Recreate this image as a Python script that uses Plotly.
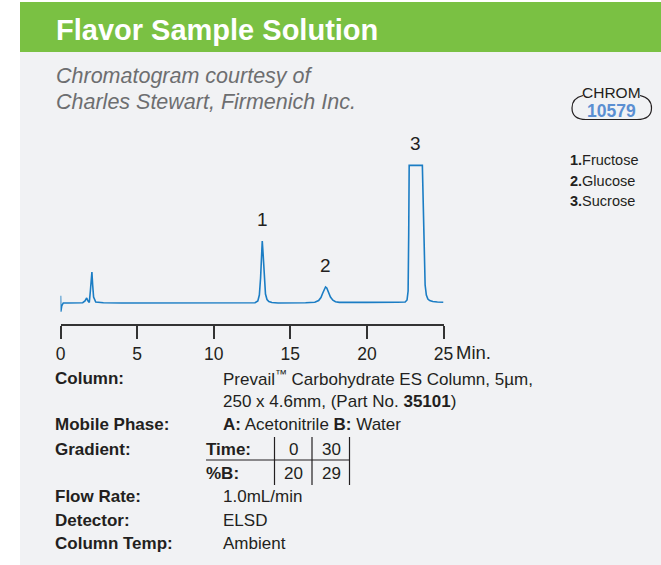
import plotly.graph_objects as go

# ---------------- data ----------------
time_min = [0.0, 0.02, 0.08, 0.18, 0.5, 1.0, 1.45, 1.6, 1.71, 1.8, 1.88, 1.95, 2.0, 2.05, 2.1, 2.16, 2.3, 2.5, 2.8,
            4.0, 8.0, 12.0, 12.7, 12.88, 12.98, 13.06, 13.12, 13.17, 13.23, 13.3, 13.38, 13.48, 13.6, 13.8, 14.2,
            16.0, 16.6, 16.85, 17.0, 17.12, 17.22, 17.3, 17.38, 17.5, 17.62, 17.78, 17.95, 18.2, 18.6,
            20.0, 22.0, 22.5, 22.62, 22.69, 22.73, 22.76, 23.62, 23.68, 23.74, 23.8, 23.88, 23.98, 24.1, 24.3, 24.6, 25.0]
signal = [7.3, -8.7, -3.0, 0.0, 0.0, 0.0, 0.3, 2.0, 5.0, 2.0, 0.6, 12.0, 25.0, 31.0, 18.0, 6.0, 1.0, 0.6, 0.3,
          0.0, 0.0, 0.0, 0.3, 2.0, 8.0, 25.0, 48.0, 62.0, 48.0, 24.0, 9.0, 3.5, 1.5, 0.5, 0.0,
          0.2, 0.8, 2.5, 5.5, 10.0, 14.0, 16.0, 15.0, 10.5, 6.0, 2.8, 1.3, 0.6, 0.5,
          0.6, 0.8, 1.0, 3.0, 12.0, 70.0, 137.6, 137.6, 90.0, 40.0, 18.0, 8.0, 4.0, 2.5, 1.5, 1.0, 0.8]

peak_labels = ["1", "2", "3"]
peak_times = [13.17, 17.3, 23.19]
peak_heights = [62.0, 16.0, 137.6]
compound_names = ["Fructose", "Glucose", "Sucrose"]

x_ticks = [0, 5, 10, 15, 20, 25]
x_unit = "Min."

title_text = "Flavor Sample Solution"
subtitle_lines = ["Chromatogram courtesy of", "Charles Stewart, Firmenich Inc."]
chrom_word = "CHROM"
chrom_number = "10579"

cond_labels = ["Column:", "", "Mobile Phase:", "Gradient:", "", "Flow Rate:", "Detector:", "Column Temp:"]
cond_values = ["Prevail<sup>™</sup> Carbohydrate ES Column, 5µm,",
               "250 x 4.6mm, (Part No. <b>35101</b>)",
               "<b>A:</b> Acetonitrile <b>B:</b> Water",
               None, None,
               "1.0mL/min", "ELSD", "Ambient"]
grad_row_names = ["Time:", "%B:"]
grad_time = [0, 30]
grad_pctB = [20, 29]

# ---------------- layout helpers ----------------
W, H = 661, 565
def px(x):
    return x / W
def py(y):
    return 1 - y / H

SANS = "Liberation Sans, Arial, Helvetica, sans-serif"
DARK = "#231f20"
BLUE = "#1b7dc4"

fig = go.Figure()
fig.add_trace(go.Scatter(x=time_min, y=signal, mode="lines",
                         line=dict(color=BLUE, width=1.6), hoverinfo="skip", showlegend=False))

shapes = []
# panels
shapes.append(dict(type="rect", xref="paper", yref="paper", x0=px(20), x1=px(661), y0=py(565), y1=py(52),
                   fillcolor="#f1f2f4", line=dict(width=0), layer="below"))
shapes.append(dict(type="rect", xref="paper", yref="paper", x0=px(20), x1=px(661), y0=py(52), y1=py(2),
                   fillcolor="#7ac143", line=dict(width=0), layer="below"))
# CHROM badge outline
pts = "M {a},{b} Q {c},{d} {e},{f} Q {g},{h} {i},{j} L {k},{l} Q {m},{n} {o},{p} Q {q},{r} {s},{t}".format(
    a=px(583), b=py(95.5), c=px(572), d=py(98), e=px(572), f=py(108),
    g=px(572), h=py(119.5), i=px(586), j=py(119.5), k=px(637), l=py(119.5),
    m=px(651.5), n=py(119.5), o=px(651.5), p=py(108), q=px(651.5), r=py(98), s=px(640), t=py(95.5))
shapes.append(dict(type="path", xref="paper", yref="paper", path=pts, line=dict(color=DARK, width=1.2)))
# gradient table lines
shapes.append(dict(type="line", xref="paper", yref="paper", x0=px(206), x1=px(350), y0=py(460), y1=py(460),
                   line=dict(color=DARK, width=1.2)))
for vx in [274.5, 312, 349.5]:
    shapes.append(dict(type="line", xref="paper", yref="paper", x0=px(vx), x1=px(vx), y0=py(437), y1=py(485),
                       line=dict(color=DARK, width=1.2)))

ann = []
def text(x, y, s, size, color=DARK, anchor="left"):
    ann.append(dict(xref="paper", yref="paper", x=px(x), y=py(y), text=s, showarrow=False,
                    xanchor=anchor, yanchor="middle", borderpad=0,
                    font=dict(size=size, family=SANS, color=color)))

text(55, 30, "<b>" + title_text + "</b>", 29, color="white")
text(55, 76, "<i>" + subtitle_lines[0] + "</i>", 21.5, color="#6d6e70")
text(55, 102, "<i>" + subtitle_lines[1] + "</i>", 21.5, color="#6d6e70")
text(611, 92.5, chrom_word, 15.5, anchor="center")
text(611, 110.5, "<b>" + chrom_number + "</b>", 17.5, color="#5b8fd2", anchor="center")
for i, name in enumerate(compound_names):
    text(569, 160 + i * 20.5, "<b>%d.</b>%s" % (i + 1, name), 14.5)

# peak labels
for lab, t, h in zip(peak_labels, peak_times, peak_heights):
    ann.append(dict(xref="x", yref="y", x=t, y=h, text=lab, showarrow=False, xanchor="center",
                    yanchor="middle", yshift=22, borderpad=0,
                    font=dict(size=19, family=SANS, color=DARK)))
# unit
text(455, 352, x_unit, 18.5)

# conditions
row_y = [378, 401.7, 425, 449.3, 473.3, 496.7, 520.7, 543.3]
FS = 17
for lab, val, yy in zip(cond_labels, cond_values, row_y):
    if lab:
        text(54, yy, "<b>" + lab + "</b>", FS)
    if val:
        text(222, yy, val, FS)
text(205, row_y[3], "<b>" + grad_row_names[0] + "</b>", FS)
text(205, row_y[4], "<b>" + grad_row_names[1] + "</b>", FS)
for xc, tv, bv in zip([293, 331], grad_time, grad_pctB):
    text(xc, row_y[3], str(tv), FS, anchor="center")
    text(xc, row_y[4], str(bv), FS, anchor="center")

fig.update_layout(
    width=W, height=H, autosize=False,
    margin=dict(l=0, r=0, t=0, b=0, pad=0, autoexpand=False),
    paper_bgcolor="white", plot_bgcolor="rgba(0,0,0,0)",
    shapes=shapes, annotations=ann, showlegend=False,
    xaxis=dict(domain=[px(60.5), px(443.5)], range=[0, 25], tickvals=x_ticks,
               showline=True, linecolor="#333333", linewidth=1.5,
               ticks="outside", ticklen=13, tickwidth=1.5, tickcolor="#333333",
               tickfont=dict(size=17.5, family=SANS, color=DARK), automargin=False,
               showgrid=False, zeroline=False, fixedrange=True),
    yaxis=dict(domain=[py(324), py(130)], range=[-21, 173], visible=False, automargin=False,
               showgrid=False, zeroline=False, fixedrange=True),
)

fig.write_html("out.html", config={"displayModeBar": False, "responsive": False},
               post_script="document.body.style.margin='0px';document.body.style.overflow='hidden';")
